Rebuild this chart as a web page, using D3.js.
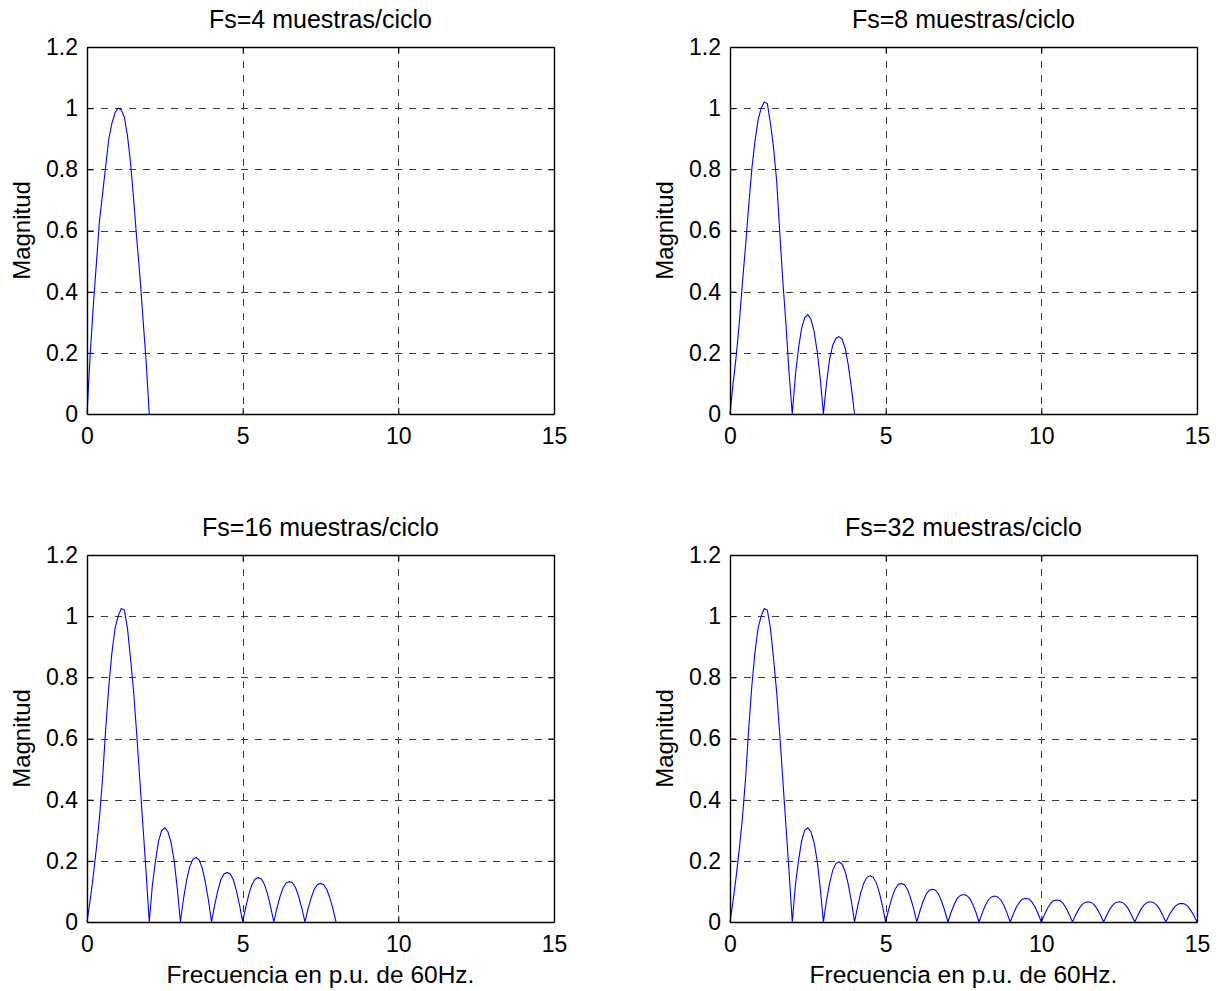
<!DOCTYPE html>
<html>
<head>
<meta charset="utf-8">
<script src="https://cdn.jsdelivr.net/npm/d3@7"></script>
<style>
  html, body { margin: 0; padding: 0; background: #fff; }
  svg { display: block; font-family: "Liberation Sans", Arial, Helvetica, sans-serif; }
</style>
</head>
<body>
<svg id="chart" width="1221" height="991"></svg>
<script>
// ---------------- data ----------------
const titles = ["Fs=4 muestras/ciclo", "Fs=8 muestras/ciclo", "Fs=16 muestras/ciclo", "Fs=32 muestras/ciclo"];
const xTicks = [0, 5, 10, 15];
const yTicks = [0, 0.2, 0.4, 0.6, 0.8, 1, 1.2];
const xLabel = "Frecuencia en p.u. de 60Hz.";
const yLabel = "Magnitud";

// frequency samples (p.u. of 60 Hz)
const freqPU = [
  0,0.1,0.2,0.3,0.4,0.5,0.6,0.7,0.8,0.9,
  1,1.1,1.2,1.3,1.4,1.5,1.6,1.7,1.8,1.9,
  2,2.1,2.2,2.3,2.4,2.5,2.6,2.7,2.8,2.9,
  3,3.1,3.2,3.3,3.4,3.5,3.6,3.7,3.8,3.9,
  4,4.1,4.2,4.3,4.4,4.5,4.6,4.7,4.8,4.9,
  5,5.1,5.2,5.3,5.4,5.5,5.6,5.7,5.8,5.9,
  6,6.1,6.2,6.3,6.4,6.5,6.6,6.7,6.8,6.9,
  7,7.1,7.2,7.3,7.4,7.5,7.6,7.7,7.8,7.9,
  8,8.1,8.2,8.3,8.4,8.5,8.6,8.7,8.8,8.9,
  9,9.1,9.2,9.3,9.4,9.5,9.6,9.7,9.8,9.9,
  10,10.1,10.2,10.3,10.4,10.5,10.6,10.7,10.8,10.9,
  11,11.1,11.2,11.3,11.4,11.5,11.6,11.7,11.8,11.9,
  12,12.1,12.2,12.3,12.4,12.5,12.6,12.7,12.8,12.9,
  13,13.1,13.2,13.3,13.4,13.5,13.6,13.7,13.8,13.9,
  14,14.1,14.2,14.3,14.4,14.5,14.6,14.7,14.8,14.9,
  15
];

// magnitude, Fs = 4 samples/cycle (0 .. 2)
const mag4 = [0,0.19,0.35,0.49,0.63,0.72,0.81,0.90,0.95,0.985,1.0,0.995,0.97,0.91,0.82,0.70,0.57,0.45,0.31,0.17,0];

// magnitude, Fs = 8 samples/cycle (0 .. 4)
const mag8 = [
  0,0.10,0.19,0.30,0.43,0.55,0.68,0.80,0.89,0.96,1.00,1.02,1.015,0.95,0.87,0.76,0.59,0.43,0.29,0.13,0,
  0.125,0.215,0.28,0.315,0.325,0.31,0.27,0.205,0.115,0,
  0.10,0.18,0.225,0.247,0.253,0.245,0.215,0.16,0.085,0
];

// magnitude, Fs = 16 samples/cycle (0 .. 8)
const mag16 = [
  0,0.07,0.15,0.24,0.34,0.47,0.63,0.77,0.88,0.96,1.00,1.025,1.02,0.96,0.86,0.75,0.61,0.46,0.31,0.16,0,
  0.12,0.20,0.265,0.30,0.308,0.295,0.26,0.20,0.11,0,
  0.076,0.137,0.181,0.205,0.211,0.203,0.177,0.131,0.072,0,
  0.055,0.102,0.138,0.157,0.162,0.157,0.138,0.102,0.055,0,
  0.049,0.091,0.123,0.141,0.145,0.141,0.123,0.091,0.049,0,
  0.045,0.083,0.112,0.128,0.132,0.128,0.112,0.083,0.045,0,
  0.043,0.079,0.107,0.122,0.126,0.122,0.107,0.079,0.043,0
];

// magnitude, Fs = 32 samples/cycle (0 .. 15)
const mag32 = [
  0,0.07,0.15,0.24,0.34,0.47,0.63,0.77,0.88,0.96,1.00,1.025,1.02,0.96,0.86,0.75,0.61,0.46,0.31,0.16,0,
  0.12,0.20,0.265,0.30,0.308,0.295,0.26,0.20,0.11,0,
  0.071,0.128,0.169,0.191,0.197,0.189,0.165,0.122,0.067,0,
  0.051,0.095,0.128,0.146,0.151,0.146,0.128,0.095,0.051,0,
  0.043,0.079,0.107,0.122,0.126,0.122,0.107,0.079,0.043,0,
  0.036,0.067,0.091,0.104,0.107,0.104,0.091,0.067,0.036,0,
  0.031,0.057,0.077,0.087,0.090,0.087,0.077,0.057,0.031,0,
  0.029,0.054,0.072,0.082,0.085,0.082,0.072,0.054,0.029,0,
  0.026,0.049,0.065,0.075,0.077,0.075,0.065,0.049,0.026,0,
  0.024,0.045,0.061,0.070,0.072,0.070,0.061,0.045,0.024,0,
  0.022,0.042,0.056,0.064,0.066,0.064,0.056,0.042,0.022,0,
  0.022,0.042,0.056,0.064,0.066,0.064,0.056,0.042,0.022,0,
  0.022,0.042,0.056,0.064,0.066,0.064,0.056,0.042,0.022,0,
  0.021,0.038,0.052,0.059,0.061,0.059,0.052,0.038,0.021,0
];

const series = [mag4, mag8, mag16, mag32];

// ---------------- layout ----------------
const TICK_FONT = 23, TITLE_FONT = 25, XLABEL_FONT = 24.5, YLABEL_FONT = 24;
const colsX = [87, 730];
const rowsY = [47, 555];
const plotW = 467, plotH = 367;

const svg = d3.select("#chart");

series.forEach((mag, i) => {
  const col = i % 2, row = Math.floor(i / 2);
  const g = svg.append("g").attr("transform", `translate(${colsX[col]},${rowsY[row]})`);

  const x = d3.scaleLinear().domain([0, 15]).range([0, plotW]);
  const y = d3.scaleLinear().domain([0, 1.2]).range([plotH, 0]);

  // grid
  const grid = g.append("g").attr("stroke", "#3a3a3a").attr("stroke-width", 1)
    .attr("stroke-dasharray", "7,7").attr("shape-rendering", "crispEdges");
  grid.selectAll("line.gx").data(xTicks.filter(t => t > 0 && t < 15)).join("line")
    .attr("x1", d => Math.round(x(d)) + 0.5).attr("x2", d => Math.round(x(d)) + 0.5)
    .attr("y1", 0).attr("y2", plotH);
  grid.selectAll("line.gy").data(yTicks.filter(t => t > 0 && t < 1.2)).join("line")
    .attr("y1", d => Math.round(y(d)) + 0.5).attr("y2", d => Math.round(y(d)) + 0.5)
    .attr("x1", 0).attr("x2", plotW);

  // curve
  const pts = mag.map((v, k) => [freqPU[k], v]);
  g.append("path").datum(pts)
    .attr("fill", "none").attr("stroke", "#0000ff").attr("stroke-width", 1.1)
    .attr("d", d3.line().x(d => x(d[0])).y(d => y(d[1])));

  const fmt = d3.format("~g");

  // axes
  const ax = g.append("g").attr("transform", `translate(0,${plotH})`)
    .call(d3.axisBottom(x).tickValues(xTicks).tickFormat(fmt).tickSizeInner(-6).tickSizeOuter(0).tickPadding(14));
  const ay = g.append("g")
    .call(d3.axisLeft(y).tickValues(yTicks).tickFormat(fmt).tickSizeInner(-6).tickSizeOuter(0).tickPadding(9));
  const at = g.append("g")
    .call(d3.axisTop(x).tickValues(xTicks).tickFormat("").tickSizeInner(-6).tickSizeOuter(0));
  const ar = g.append("g").attr("transform", `translate(${plotW},0)`)
    .call(d3.axisRight(y).tickValues(yTicks).tickFormat("").tickSizeInner(-6).tickSizeOuter(0));

  [ax, ay, at, ar].forEach(a => {
    a.select(".domain").attr("stroke", "#000").attr("stroke-width", 1.4);
    a.selectAll(".tick line").attr("stroke", "#000").attr("stroke-width", 1);
    a.selectAll(".tick text").attr("fill", "#000").style("font-size", TICK_FONT + "px")
      .style("font-family", '"Liberation Sans", Arial, sans-serif');
  });

  // title
  g.append("text").attr("x", plotW / 2).attr("y", -19)
    .attr("text-anchor", "middle").style("font-size", TITLE_FONT + "px").attr("fill", "#000")
    .text(titles[i]);

  // y label
  g.append("text").attr("transform", `translate(-57,${plotH / 2}) rotate(-90)`)
    .attr("text-anchor", "middle").style("font-size", YLABEL_FONT + "px").attr("fill", "#000")
    .text(yLabel);

  // x label (bottom row only)
  if (row === 1) {
    g.append("text").attr("x", plotW / 2).attr("y", plotH + 61)
      .attr("text-anchor", "middle").style("font-size", XLABEL_FONT + "px").attr("fill", "#000")
      .text(xLabel);
  }
});
</script>
</body>
</html>
